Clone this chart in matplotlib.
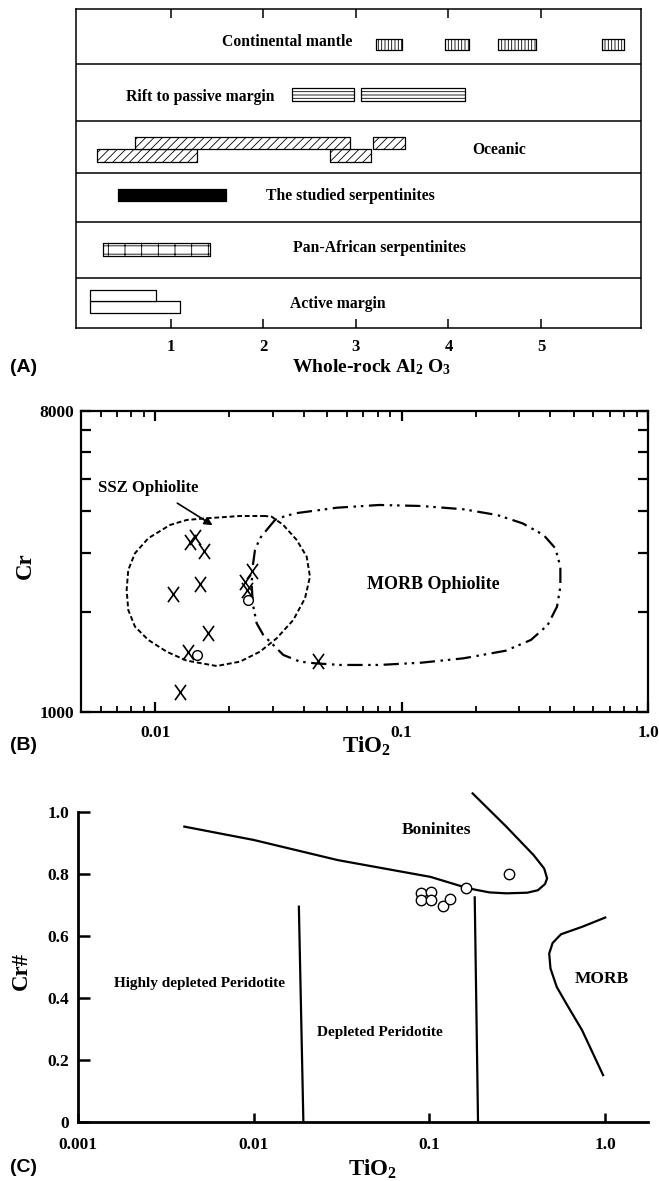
import numpy as np
import matplotlib
matplotlib.use("Agg")
import matplotlib.pyplot as plt
from matplotlib.path import Path
from matplotlib.ticker import LogLocator, NullFormatter, FixedLocator, NullLocator

plt.rcParams['font.family'] = ['Liberation Serif', 'DejaVu Serif']
plt.rcParams['font.weight'] = 'bold'
plt.rcParams['mathtext.fontset'] = 'custom'
plt.rcParams['mathtext.rm'] = 'Liberation Serif:bold'
plt.rcParams['mathtext.it'] = 'Liberation Serif:bold'
plt.rcParams['mathtext.bf'] = 'Liberation Serif:bold'
plt.rcParams['mathtext.default'] = 'regular'
plt.rcParams['hatch.linewidth'] = 0.6
plt.rcParams['lines.scale_dashes'] = False

# ---------------- Panel A data (whole-rock Al2O3 ranges) ----------------
a_categories = ["Continental mantle", "Rift to passive margin", "Oceanic",
                "The studied serpentinites", "Pan-African serpentinites", "Active margin"]
a_ticks = [1, 2, 3, 4, 5]
continental_ranges = [(3.22, 3.50), (3.96, 4.22), (4.53, 4.95), (5.66, 5.90)]
rift_ranges = [(2.31, 2.98), (3.06, 4.18)]
oceanic_upper_ranges = [(0.61, 2.94), (3.19, 3.53)]
oceanic_lower_ranges = [(0.20, 1.28), (2.72, 3.16)]
studied_ranges = [(0.435, 1.60)]
panafrican_ranges = [(0.27, 1.42)]
active_upper_ranges = [(0.125, 0.84)]
active_lower_ranges = [(0.125, 1.10)]

# ---------------- Panel B data (TiO2 vs Cr) ----------------
b_cross_tio2 = [0.01384, 0.01450, 0.01578, 0.01520, 0.01178, 0.01642, 0.01355, 0.01260,
                0.02470, 0.02314, 0.02358, 0.04578]
b_cross_cr = [3244, 3356, 3042, 2417, 2260, 1724, 1518, 1153, 2649, 2461, 2325, 1429]
b_circle_tio2 = [0.02391, 0.01474]
b_circle_cr = [2168, 1485]
ssz_tio2 = [0.02789, 0.02209, 0.01618, 0.01342, 0.01148, 0.009376, 0.008279, 0.007776,
            0.007660, 0.007776, 0.008279, 0.009376, 0.01113, 0.01342, 0.01776, 0.02209,
            0.02662, 0.03113, 0.03635, 0.04055, 0.04248, 0.04120, 0.03752, 0.03311,
            0.02971, 0.02789]
ssz_cr = [3871, 3871, 3810, 3766, 3638, 3320, 2994, 2668, 2325, 2025, 1805, 1647, 1519,
          1428, 1376, 1418, 1519, 1666, 1890, 2195, 2548, 2924, 3281, 3638, 3852, 3871]
morb_tio2 = [0.03063, 0.02834, 0.02662, 0.02541, 0.02487, 0.02464, 0.02487, 0.02581,
             0.02746, 0.03015, 0.03311, 0.03870, 0.04452, 0.05623, 0.08119, 0.1204,
             0.1784, 0.2646, 0.3350, 0.3918, 0.4273, 0.4409, 0.4409, 0.4206, 0.3770,
             0.3094, 0.2444, 0.1784, 0.1204, 0.08119, 0.05475, 0.03697, 0.03158, 0.03063]
morb_cr = [3766, 3515, 3320, 3062, 2729, 2434, 2121, 1848, 1704, 1591, 1485, 1418, 1402,
           1386, 1386, 1408, 1451, 1529, 1647, 1826, 2072, 2378, 2729, 3098, 3396, 3681,
           3897, 4054, 4147, 4176, 4099, 3943, 3810, 3766]
b_xticks = [0.01, 0.1, 1.0]
b_xticklabels = ["0.01", "0.1", "1.0"]
b_yticks = [1000, 8000]
b_yticklabels = ["1000", "8000"]
b_yminor = [2000, 3000, 4000, 5000, 6000, 7000]

# ---------------- Panel C data (TiO2 vs Cr#) ----------------
boninite_tio2 = [0.00404, 0.01002, 0.03016, 0.1014, 0.1666, 0.2195, 0.2736, 0.3604,
                 0.414, 0.4544, 0.4670, 0.4494, 0.3915, 0.2736, 0.1761]
boninite_crn = [0.952, 0.909, 0.844, 0.790, 0.753, 0.740, 0.737, 0.739,
                0.747, 0.767, 0.785, 0.817, 0.860, 0.952, 1.059]
div1_tio2 = [0.0181, 0.0192]
div1_crn = [0.694, 0.0]
div2_tio2 = [0.181, 0.189]
div2_crn = [0.724, 0.0]
morbc_tio2 = [1.0, 0.738, 0.560, 0.502, 0.480, 0.488, 0.530, 0.6085, 0.738, 0.972]
morbc_crn = [0.659, 0.629, 0.605, 0.577, 0.543, 0.495, 0.435, 0.376, 0.296, 0.151]
c_circle_tio2 = [0.0899, 0.1015, 0.0899, 0.1015, 0.1197, 0.1315, 0.161, 0.283]
c_circle_crn = [0.739, 0.742, 0.715, 0.715, 0.697, 0.720, 0.753, 0.799]
c_xticks = [0.001, 0.01, 0.1, 1.0]
c_xticklabels = ["0.001", "0.01", "0.1", "1.0"]
c_yticks = [0, 0.2, 0.4, 0.6, 0.8, 1.0]
c_yticklabels = ["0", "0.2", "0.4", "0.6", "0.8", "1.0"]

# ---------------- Figure ----------------
W, H = 659, 1181
fig = plt.figure(figsize=(W / 100, H / 100), dpi=100)


def box(l, t, r, b):
    return [l / W, 1 - b / H, (r - l) / W, (b - t) / H]


def fx(x):
    return x / W


def fy(y):
    return 1 - y / H


SANS = dict(family=['Liberation Sans', 'DejaVu Sans'], weight='bold')

# ===== Panel A =====
axA = fig.add_axes(box(76, 9.3, 641, 328.3))
axA.set_xlim(-0.023, 6.08)
axA.set_ylim(328.3, 9.3)
for sp in axA.spines.values():
    sp.set_linewidth(1.1)
for yline in [64.3, 120.7, 172.7, 221.7, 277.7]:
    axA.axhline(yline, color='black', lw=1.1)
axA.set_xticks(a_ticks)
axA.set_xticklabels([str(t) for t in a_ticks])
axA.set_yticks([])
axA.tick_params(axis='x', direction='in', top=True, length=6.5, width=1.1,
                pad=8, labelsize=12)


def bars(ax, ranges, y0, y1, **kw):
    ax.broken_barh([(s, e - s) for s, e in ranges], (y0, y1 - y0),
                   edgecolor='black', linewidth=0.9, **kw)


bars(axA, continental_ranges, 39, 50, facecolor='white', hatch='|||||')
bars(axA, rift_ranges, 88.3, 100.7, facecolor='white', hatch='-----')
bars(axA, oceanic_lower_ranges, 149.3, 162.3, facecolor='white', hatch='////')
bars(axA, oceanic_upper_ranges, 137.0, 149.3, facecolor='white', hatch='////')
bars(axA, studied_ranges, 189, 201, facecolor='black')
bars(axA, panafrican_ranges, 243.3, 256, facecolor='white', hatch='--|')
bars(axA, active_lower_ranges, 301, 313, facecolor='white')
bars(axA, active_upper_ranges, 290, 301, facecolor='white')

a_text_pos = [(2.26, 41.7), (1.32, 96.7), (4.55, 150), (2.94, 196), (3.25, 247.7), (2.80, 304.3)]
for name, (tx, ty) in zip(a_categories, a_text_pos):
    axA.text(tx, ty, name, ha='center', va='center', fontsize=11.3, fontweight='bold')

fig.text(fx(371), fy(367), r"Whole-rock Al$_2$ O$_3$", ha='center', va='center',
         fontsize=14, fontweight='bold')
fig.text(fx(10), fy(368), "(A)", ha='left', va='center', fontsize=14, **SANS)

# ===== Panel B =====
axB = fig.add_axes(box(81, 410.7, 648, 712.3))
axB.set_xscale('log')
axB.set_yscale('log')
axB.set_xlim(0.005, 1.0)
axB.set_ylim(1000, 8000)
for sp in axB.spines.values():
    sp.set_linewidth(1.6)

axB.plot(ssz_tio2, ssz_cr, color='black', lw=1.4, linestyle=(0, (3.5, 2.0)))
axB.plot(morb_tio2, morb_cr, color='black', lw=1.6,
         linestyle=(0, (11, 4, 1.8, 3.5, 1.8, 4)))

xpath = Path([(-0.36, -0.5), (0.36, 0.5), (-0.36, 0.5), (0.36, -0.5)],
             [Path.MOVETO, Path.LINETO, Path.MOVETO, Path.LINETO])
axB.plot(b_cross_tio2, b_cross_cr, linestyle='none', marker=xpath, ms=11,
         mew=1.2, color='black', mfc='none')
axB.plot(b_circle_tio2, b_circle_cr, linestyle='none', marker='o', ms=7,
         mew=1.0, mec='black', mfc='white')

axB.set_xticks(b_xticks)
axB.set_xticklabels(b_xticklabels)
axB.xaxis.set_minor_locator(LogLocator(base=10, subs=np.arange(2, 10)))
axB.xaxis.set_minor_formatter(NullFormatter())
axB.set_yticks(b_yticks)
axB.set_yticklabels(b_yticklabels)
axB.yaxis.set_minor_locator(FixedLocator(b_yminor))
axB.yaxis.set_minor_formatter(NullFormatter())
axB.tick_params(which='both', direction='in', top=True, right=True)
axB.tick_params(axis='x', which='major', length=7, width=1.6, pad=9, labelsize=12.5)
axB.tick_params(axis='x', which='minor', length=4, width=1.3)
axB.tick_params(axis='y', which='major', length=7, width=1.6, pad=5, labelsize=12.5)
axB.tick_params(axis='y', which='minor', length=7, width=1.6)

axB.text(0.005876, 4687, "SSZ Ophiolite", ha='left', va='center', fontsize=12,
         fontweight='bold')
axB.annotate("", xy=(0.01748, 3596), xytext=(0.01203, 4272),
             arrowprops=dict(arrowstyle='-|>', lw=1.2, color='black', mutation_scale=12))
axB.text(0.1351, 2406, "MORB Ophiolite", ha='center', va='center', fontsize=13,
         fontweight='bold')

fig.text(fx(366), fy(746), r"TiO$_2$", ha='center', va='center', fontsize=16.5,
         fontweight='bold')
fig.text(fx(25), fy(566), "Cr", ha='center', va='center', rotation=90, fontsize=16.5,
         fontweight='bold')
fig.text(fx(10), fy(745), "(B)", ha='left', va='center', fontsize=14, **SANS)

# ===== Panel C =====
axC = fig.add_axes(box(77.7, 786.9, 648, 1122))
axC.set_xscale('log')
axC.set_xlim(0.001, 1.75)
axC.set_ylim(0, 1.08)
axC.spines['top'].set_visible(False)
axC.spines['right'].set_visible(False)
axC.spines['left'].set_bounds(0, 1.0)
axC.spines['left'].set_linewidth(2.0)
axC.spines['bottom'].set_linewidth(2.0)

axC.plot(boninite_tio2, boninite_crn, color='black', lw=1.6, solid_joinstyle='round')
axC.plot(div1_tio2, div1_crn, color='black', lw=1.6)
axC.plot(div2_tio2, div2_crn, color='black', lw=1.6)
axC.plot(morbc_tio2, morbc_crn, color='black', lw=1.6, solid_joinstyle='round')
axC.plot(c_circle_tio2, c_circle_crn, linestyle='none', marker='o', ms=7.5,
         mew=1.0, mec='black', mfc='white')

axC.set_xticks(c_xticks)
axC.set_xticklabels(c_xticklabels)
axC.xaxis.set_minor_locator(NullLocator())
axC.set_yticks(c_yticks)
axC.set_yticklabels(c_yticklabels)
axC.tick_params(direction='in')
axC.tick_params(axis='x', length=6.5, width=1.8, pad=11, labelsize=12.5)
axC.tick_params(axis='y', length=8.5, width=1.8, pad=6, labelsize=12.5)

axC.text(0.110, 0.941, "Boninites", ha='center', va='center', fontsize=12.5,
         fontweight='bold')
axC.text(0.00494, 0.446, "Highly depleted Peridotite", ha='center', va='center',
         fontsize=11, fontweight='bold')
axC.text(0.0524, 0.290, "Depleted Peridotite", ha='center', va='center',
         fontsize=11, fontweight='bold')
axC.text(0.957, 0.462, "MORB", ha='center', va='center', fontsize=12.5,
         fontweight='bold')

fig.text(fx(372), fy(1169), r"TiO$_2$", ha='center', va='center', fontsize=16.5,
         fontweight='bold')
fig.text(fx(21), fy(971), "Cr#", ha='center', va='center', rotation=90, fontsize=16.5,
         fontweight='bold')
fig.text(fx(10), fy(1167), "(C)", ha='left', va='center', fontsize=14, **SANS)

fig.savefig("out.png", dpi=100)
